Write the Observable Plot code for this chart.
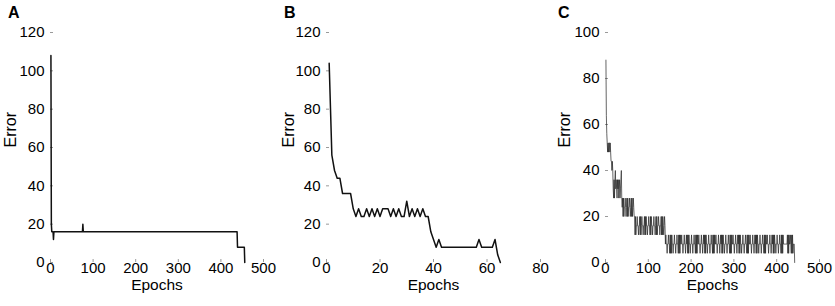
<!DOCTYPE html>
<html><head><meta charset="utf-8">
<script src="https://cdn.jsdelivr.net/npm/d3@7"></script>
<script src="https://cdn.jsdelivr.net/npm/@observablehq/plot@0.6"></script>
<style>
html,body{margin:0;padding:0;background:#fff}
body{width:835px;height:306px;overflow:hidden;position:relative;font-family:"Liberation Sans",Arial,sans-serif}
.panel{position:absolute;top:0}
.letter{position:absolute;top:5px;font-weight:bold;font-size:16px;line-height:1;color:#000}
</style></head><body>
<div id="pA" class="panel" style="left:0px"></div>
<div id="pB" class="panel" style="left:278px"></div>
<div id="pC" class="panel" style="left:556px"></div>
<div class="letter" style="left:8px">A</div>
<div class="letter" style="left:284px">B</div>
<div class="letter" style="left:558px">C</div>
<script>
// ---- Panel A (breakpoints where the error changes) ----
const aEpoch = [1, 2, 3, 6, 7, 8, 75, 76, 77, 438, 439, 455, 456];
const aError = [108, 20, 16, 16, 12, 16, 16, 20, 16, 16, 8, 8, 0];

// ---- Panel B (one value per epoch, from epoch 1) ----
const bError = [
  104,56,48,44,44,36,36,36,36,28,
  24,28,24,24,28,24,28,24,28,24,
  28,28,28,24,28,24,28,24,24,32,
  24,28,24,28,24,28,24,24,16,12,
  8,12,8,8,8,8,8,8,8,8,
  8,8,8,8,8,8,12,8,8,8,
  8,8,12,4,0
];

// ---- Panel C (one value per epoch, from epoch 1) ----
const cStart = [88,64,56,52,48,52,48,52,52,48,52,48,44,44,40,44,40];
const cBand32 = [32,28,36,28,36,40,32,36,32,28,36,32,36,28,32,36,28,32,36,40,28];
const cBand24 = [24,28,20,28,20,24,24,28,24,20,24,28,20,28,20,24,24,28,24,20,24,28,20,28,20,24,28,24,20];
const cBand16 = [
  20,12,20,12, 16,16,20,16,16,12,16,16,
  20,12,20,12, 16,20,16,16,12,16,16,20,
  12,20,12,20, 16,16,12,16,16,20,16,16,
  12,20,12,20, 16,16,12,16,16,20,16,16,12,16,
  20,12,20,12, 16,16,20,16,16,12,16,16,20,
  12,20,12,20, 16,12,16,20,16
];
const cBand8 = [
  8,12,8,8,4,8,8,12,8,8,4,
  12,4,12,4,12,8,8,4,8,8,12,8,8,4,8,8,12,8,8,4,
  12,4,12,4,12,8,8,12,8,8,4,8,8,12,8,8,4,8,12,8,
  12,4,12,4,12,8,8,4,8,8,12,8,8,4,8,8,12,8,8,4,
  12,4,12,4,12,8,8,12,8,8,4,8,8,12,8,8,4,8,12,8,
  12,4,12,4,12,8,8,4,8,8,12,8,8,4,8,8,12,8,8,4,
  12,4,12,4,12,8,8,12,8,8,4,8,8,12,8,8,4,8,12,8,
  12,4,12,4,12,8,8,4,8,8,12,8,8,4,8,8,12,8,8,4,
  12,4,12,4,12,8,8,12,8,8,4,8,8,12,8,8,4,8,12,8,
  12,4,12,4,12,8,8,4,8,8,12,8,8,4,8,8,12,8,8,4,
  12,4,12,4,12,8,8,12,8,8,4,8,8,12,8,8,4,8,12,8,
  12,4,12,4,12,8,8,4,8,8,12,8,8,4,8,8,12,8,8,4,
  12,4,12,4,12,8,8,12,8,8,4,8,8,12,8,8,4,8,12,8,
  12,4,12,4,12,8,8,4,8,8,12,8,8,4,8,8,12,8,8,4,
  12,4,12,4,12,8
];
const cFlat8 = [8,8,8,8,8,8,8,8];
const cEnd = [12,4,12,4,12,8,8,12,8,4,12,4,12,4, 8,8,8,0];

// ---- Axes ----
const xTicksA = [0,100,200,300,400,500];
const xTicksB = [0,20,40,60,80];
const xTicksC = [0,100,200,300,400,500];
const yTicksAB = [0,20,40,60,80,100,120];
const yTicksC = [0,20,40,60,80,100];
const xLabel = "Epochs";
const yLabel = "Error";

const bEpoch = bError.map((_, i) => i + 1);
const cError = [...cStart, ...cBand32, ...cBand24, ...cBand16, ...cBand8, ...cFlat8, ...cEnd];
const cEpoch = cError.map((_, i) => i + 1);

function panel({epochs, errors, xDomain, xTicks, yDomain, yTicks, width, marginLeft, marginRight, sw, stroke, yLabelDx}) {
  const data = epochs.map((e, i) => ({epoch: e, error: errors[i]}));
  const axisColor = "#9a9a9a";
  return Plot.plot({
    width, height: 306,
    marginTop: 32, marginBottom: 44, marginLeft, marginRight,
    style: {fontFamily: "'Liberation Sans', Arial, sans-serif", fontSize: "15px", color: "#000", background: "transparent", overflow: "visible"},
    x: {domain: xDomain, ticks: xTicks},
    y: {domain: yDomain, ticks: yTicks},
    marks: [
      Plot.axisX({ticks: xTicks, tickSize: -3, tickPadding: 3, stroke: axisColor, line: true, label: null}),
      Plot.axisY({ticks: yTicks, tickSize: -3, tickPadding: 9, stroke: axisColor, line: true, label: null}),
      Plot.line(data, {x: "epoch", y: "error", stroke, strokeWidth: sw}),
      Plot.text([xLabel], {text: d => d, frameAnchor: "bottom", dy: 27, fontSize: 15.5}),
      Plot.text([yLabel], {text: d => d, frameAnchor: "left", rotate: -90, dx: yLabelDx, fontSize: 16})
    ]
  });
}

document.getElementById("pA").append(panel({epochs: aEpoch, errors: aError, xDomain: [0, 500], xTicks: xTicksA, yDomain: [0, 120], yTicks: yTicksAB, width: 278, marginLeft: 50, marginRight: 15, sw: 1.5, stroke: "#111", yLabelDx: -40}));
document.getElementById("pB").append(panel({epochs: bEpoch, errors: bError, xDomain: [0, 80], xTicks: xTicksB, yDomain: [0, 120], yTicks: yTicksAB, width: 278, marginLeft: 48, marginRight: 16, sw: 1.5, stroke: "#111", yLabelDx: -38}));
document.getElementById("pC").append(panel({epochs: cEpoch, errors: cError, xDomain: [0, 500], xTicks: xTicksC, yDomain: [0, 100], yTicks: yTicksC, width: 279, marginLeft: 49, marginRight: 16, sw: 0.7, stroke: "#222", yLabelDx: -41}));
</script>
</body></html>
